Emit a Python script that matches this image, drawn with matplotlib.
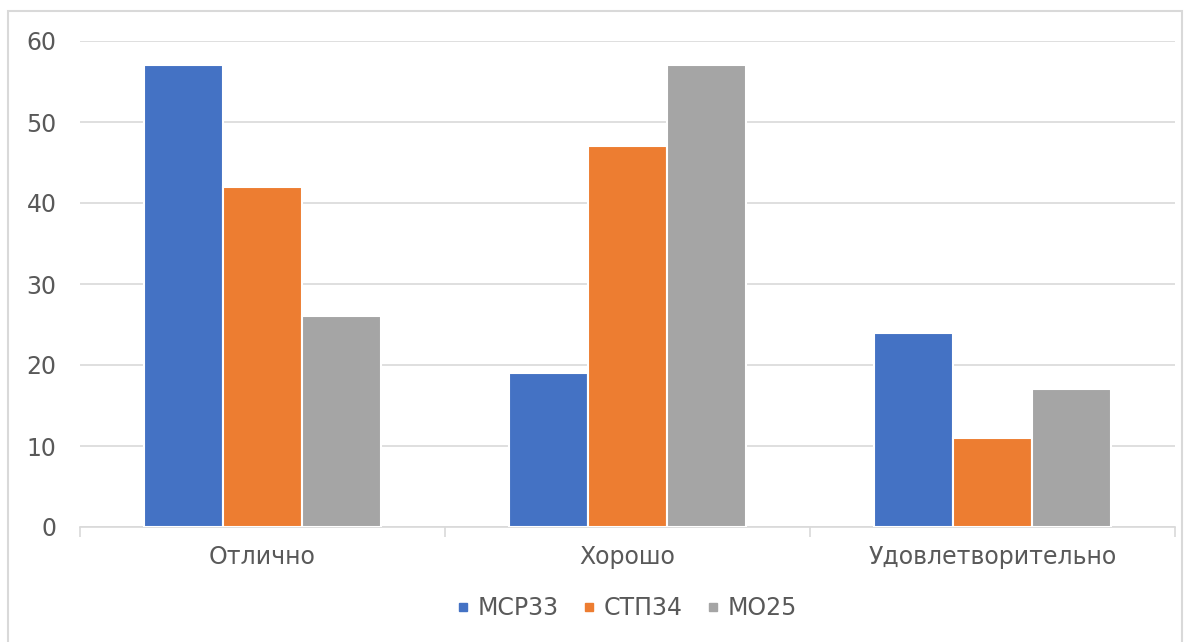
import matplotlib.pyplot as plt
import numpy as np
from matplotlib.patches import Rectangle
from matplotlib.lines import Line2D

categories = ["Отлично", "Хорошо", "Удовлетворительно"]
series_names = ["МСР33", "СТП34", "МО25"]
msr33 = [57, 19, 24]
stp34 = [42, 47, 11]
mo25 = [26, 57, 17]
colors = ["#4472C4", "#ED7D31", "#A5A5A5"]

fig = plt.figure(figsize=(11.9, 6.42), dpi=100)
ax = fig.add_axes([80 / 1190, 1 - 527 / 642, 1095 / 1190, 486 / 642])

# рамка вокруг всей диаграммы
fig.patches.append(Rectangle((8 / 1190, -0.05), 1174 / 1190, 1 - 11 / 642 + 0.05,
                             transform=fig.transFigure, fill=False,
                             edgecolor="#D9D9D9", linewidth=1.5))

x = np.arange(len(categories))
w = 0.217
for i, (vals, name) in enumerate(zip([msr33, stp34, mo25], series_names)):
    ax.bar(x + (i - 1) * w, vals, width=w, color=colors[i], label=name,
           edgecolor="white", linewidth=1.5, zorder=3)

ax.set_xlim(-0.5, 2.5)
ax.set_ylim(0, 60)
ax.set_yticks(range(0, 61, 10))
ax.grid(axis="y", color="#D9D9D9", linewidth=1.2, zorder=0)

for s in ["top", "right", "left"]:
    ax.spines[s].set_visible(False)
ax.spines["bottom"].set_color("#D9D9D9")
ax.spines["bottom"].set_linewidth(1.2)

ax.set_xticks(x)
ax.set_xticklabels(categories)
ax.set_xticks([-0.5, 0.5, 1.5, 2.5], minor=True)
ax.tick_params(axis="x", which="major", length=0, pad=13, labelsize=17, labelcolor="#595959")
ax.tick_params(axis="x", which="minor", length=7, color="#D9D9D9", width=1.2)
ax.tick_params(axis="y", length=0, pad=17, labelsize=17, labelcolor="#595959")

# квадратные маркеры в легенде
handles = [Line2D([], [], marker="s", linestyle="none", markersize=6,
                  markerfacecolor=c, markeredgecolor=c) for c in colors]
ax.legend(handles, series_names, loc="center", bbox_to_anchor=(0.5, -0.167), ncol=3,
          frameon=False, fontsize=17, labelcolor="#595959", handlelength=0.4,
          handletextpad=0.4, columnspacing=1.1)

fig.savefig("out.png", dpi=100)
